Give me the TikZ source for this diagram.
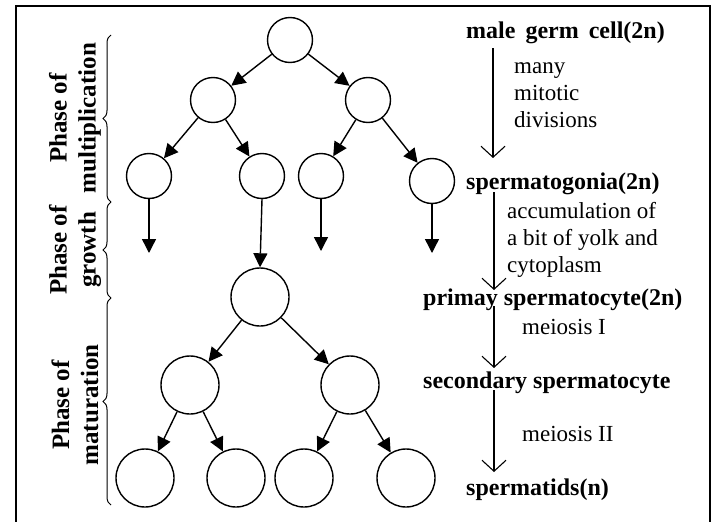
\documentclass[tikz,border=0pt]{standalone}
\usepackage{fontspec}
\setmainfont{Liberation Serif}
\usetikzlibrary{arrows.meta,decorations.pathreplacing}
\begin{document}
\begin{tikzpicture}[x=1pt,y=1pt,
  cellA/.style={circle,draw,line width=1.4pt,minimum size=45pt,inner sep=0pt},
  cellB/.style={circle,draw,line width=1.4pt,minimum size=58pt,inner sep=0pt},
  divarrow/.style={line width=1.4pt,-{Triangle[length=14pt,width=14pt]}},
  steparrow/.style={line width=1.1pt,-{Straight Barb[length=11pt,width=24pt,line width=1.1pt]}},
  boldlabel/.style={font=\fontsize{24}{28}\selectfont\bfseries,inner sep=0pt,anchor=west},
  plainlabel/.style={font=\fontsize{23}{27}\selectfont,inner sep=0pt,anchor=north west,align=left},
  phaselabel/.style={font=\fontsize{25}{29}\selectfont\bfseries,align=center,rotate=90,inner sep=0pt},
  phasebrace/.style={decorate,decoration={brace,amplitude=8pt},line width=1pt}]
\useasboundingbox (0,0) rectangle (715,-522);
% frame
\draw[line width=2.6pt] (16,-522) -- (16,-6) -- (710,-6) -- (710,-522);

% circles
\node[cellA] (c1)  at (290,-40) {};
\node[cellA] (c2a) at (213,-100) {};
\node[cellA] (c2b) at (368,-100) {};
\node[cellA] (c3a) at (149,-176) {};
\node[cellA] (c3b) at (262,-176) {};
\node[cellA] (c3c) at (321,-176) {};
\node[cellA] (c3d) at (432,-181) {};
\node[cellB] (c4)  at (260,-297) {};
\node[cellB] (c5a) at (190,-385) {};
\node[cellB] (c5b) at (350,-385) {};
\node[cellB] (c6a) at (145,-478) {};
\node[cellB] (c6b) at (236,-478) {};
\node[cellB] (c6c) at (304,-478) {};
\node[cellB] (c6d) at (406,-478) {};

\coordinate (e3a) at (149,-253);
\coordinate (e3c) at (321,-251);
\coordinate (e3d) at (432,-253);

\draw[divarrow] (c1) -- (c2a);
\draw[divarrow] (c1) -- (c2b);
\draw[divarrow] (c2a) -- (c3a);
\draw[divarrow] (c2a) -- (c3b);
\draw[divarrow] (c2b) -- (c3c);
\draw[divarrow] (c2b) -- (c3d);
\draw[divarrow] (c3a.south) -- (e3a);
\draw[divarrow] (c3b.south) -- (c4.north);
\draw[divarrow] (c3c.south) -- (e3c);
\draw[divarrow] (c3d.south) -- (e3d);
\draw[divarrow] (c4) -- (c5a);
\draw[divarrow] (c4) -- (c5b);
\draw[divarrow] (c5a) -- (c6a);
\draw[divarrow] (c5a) -- (c6b);
\draw[divarrow] (c5b) -- (c6c);
\draw[divarrow] (c5b) -- (c6d);

% braces
\coordinate (b0) at (111,-35);
\coordinate (b1) at (111,-202);
\coordinate (b2) at (111,-298);
\coordinate (b3) at (111,-505);
\draw[phasebrace] (b1) -- (b0);
\draw[phasebrace] (b2) -- (b1);
\draw[phasebrace] (b3) -- (b2);

\node[phaselabel] (p1) at (75,-118) {Phase of\\multiplication};
\node[phaselabel] (p2) at (75,-250) {Phase of\\growth};
\node[phaselabel] (p3) at (75,-405) {Phase of\\maturation};

% right column
\node[boldlabel] (t1) at (466,-33) {male\hspace{10pt}germ\hspace{10pt}cell(2n)};
\node[boldlabel] (t2) at (466,-184) {spermatogonia(2n)};
\node[boldlabel] (t3) at (423,-300) {primay spermatocyte(2n)};
\node[boldlabel] (t4) at (423,-383) {secondary spermatocyte};
\node[boldlabel] (t5) at (466,-490) {spermatids(n)};

\node[plainlabel] (m1) at (514,-62) {many\\mitotic\\divisions};
\node[plainlabel] (m2) at (507,-202) {accumulation of\\a bit of yolk and\\cytoplasm};
\node[plainlabel] (m3) at (522,-319) {meiosis I};
\node[plainlabel] (m4) at (522,-426) {meiosis II};

\coordinate (a1s) at (493,-48);  \coordinate (a1e) at (493,-158);
\coordinate (a2s) at (494,-192); \coordinate (a2e) at (494,-290);
\coordinate (a3s) at (494,-306); \coordinate (a3e) at (494,-368);
\coordinate (a4s) at (494,-390); \coordinate (a4e) at (494,-472);
\draw[steparrow] (a1s) -- (a1e);
\draw[steparrow] (a2s) -- (a2e);
\draw[steparrow] (a3s) -- (a3e);
\draw[steparrow] (a4s) -- (a4e);
\end{tikzpicture}
\end{document}
